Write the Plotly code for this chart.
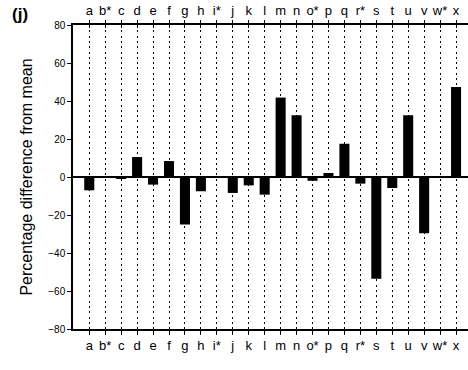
import plotly.graph_objects as go

# Sites along the transect (asterisk marks reference sites)
categories = ["a", "b*", "c", "d", "e", "f", "g", "h", "i*", "j", "k", "l",
              "m", "n", "o*", "p", "q", "r*", "s", "t", "u", "v", "w*", "x"]
# Percentage difference from the overall mean at each site
pct_diff = [-7, -0.5, -1, 10.5, -4, 8.4, -25, -7.5, -0.3, -8.4, -4.4, -9.3,
            41.8, 32.5, -2, 2.1, 17.5, -3.5, -53.5, -5.8, 32.5, -29.6, -0.3, 47.4]
y_ticks = [80, 60, 40, 20, 0, -20, -40, -60, -80]

idx = list(range(len(categories)))
font_family = "Liberation Sans, Arial, sans-serif"
label_font = dict(size=13, color="black", family=font_family)

fig = go.Figure()
fig.add_trace(go.Bar(
    x=idx, y=pct_diff, width=0.63,
    marker=dict(color="black", line=dict(width=0)),
    showlegend=False,
))
# invisible companions so the top axes are drawn
fig.add_trace(go.Scatter(x=idx, y=[0] * len(idx), xaxis="x2", mode="none",
                         showlegend=False, hoverinfo="skip"))
fig.add_trace(go.Scatter(x=idx, y=[0] * len(idx), xaxis="x3", mode="none",
                         showlegend=False, hoverinfo="skip"))

x_range = [-1.02, 23.75]

fig.update_layout(
    width=468, height=370,
    margin=dict(l=73, r=0, t=25, b=41),
    paper_bgcolor="white", plot_bgcolor="white",
    font=dict(family=font_family, color="black"),
    xaxis=dict(
        range=x_range, tickmode="array", tickvals=idx, ticktext=categories,
        ticks="outside", ticklen=4, tickwidth=1, tickcolor="black",
        showline=True, linecolor="black", linewidth=1.5,
        showgrid=True, gridcolor="black", gridwidth=1.2, griddash="2px,3.3px",
        zeroline=False, tickfont=label_font, fixedrange=True,
    ),
    xaxis2=dict(
        overlaying="x", side="top", range=x_range,
        tickmode="array", tickvals=idx, ticktext=categories,
        ticks="outside", ticklen=3, tickwidth=1, tickcolor="black",
        showline=True, linecolor="black", linewidth=1.5,
        showgrid=False, zeroline=False, tickfont=label_font,
    ),
    xaxis3=dict(
        overlaying="x", side="top", range=x_range,
        tickmode="array", tickvals=idx, showticklabels=False,
        ticks="inside", ticklen=3, tickwidth=1, tickcolor="black",
        showline=False, showgrid=False, zeroline=False,
    ),
    yaxis=dict(
        range=[-80, 80], tickmode="array", tickvals=y_ticks,
        ticks="outside", ticklen=4, tickwidth=1, tickcolor="black",
        showline=True, linecolor="black", linewidth=1.5,
        showgrid=False, zeroline=True, zerolinecolor="black", zerolinewidth=1.5,
        tickfont=dict(size=10, color="black", family=font_family),
        fixedrange=True,
        title=dict(text="Percentage difference from mean",
                   font=dict(size=16, color="black", family=font_family),
                   standoff=12),
    ),
    annotations=[dict(
        text="<b>(j)</b>", xref="paper", yref="paper", x=-0.134, y=1.036,
        xanchor="center", yanchor="middle", showarrow=False,
        font=dict(size=17, color="black", family=font_family),
    )],
)

fig.write_html("out.html")
